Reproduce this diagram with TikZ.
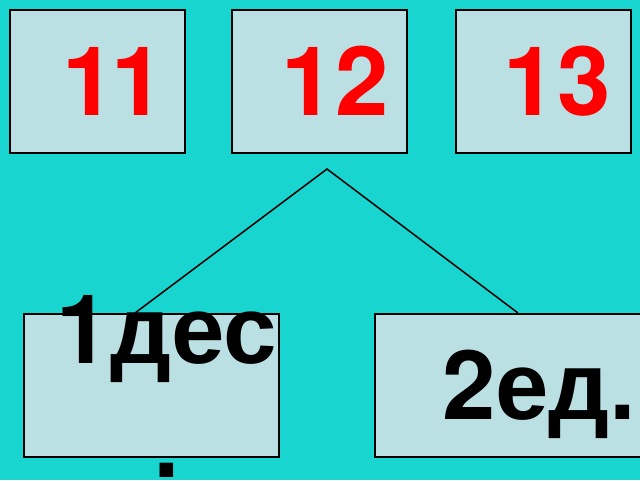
\documentclass[tikz,border=0pt]{standalone}
\usepackage{fontspec}
\setmainfont{Liberation Sans}
\newfontfamily\digitfont{TeX Gyre Heros}
\definecolor{bgcyan}{RGB}{25,213,208}
\definecolor{boxfill}{RGB}{187,224,228}
\definecolor{numred}{RGB}{255,0,0}
\newcommand{\dg}[1]{{\digitfont #1}}
\begin{document}
\begin{tikzpicture}[x=1pt,y=-1pt,
  box/.style={draw=black,line width=2pt,fill=boxfill,rectangle,inner sep=0pt},
  topbox/.style={box,minimum width=175pt,minimum height=143pt},
  num/.style={inner sep=0pt,anchor=base west,text=numred,font=\fontsize{96}{114}\selectfont\digitfont\bfseries},
  word/.style={inner sep=0pt,anchor=base west,text=black,font=\fontsize{96}{114}\selectfont\bfseries},
  conn/.style={draw=black,line width=1.5pt}]
\fill[bgcyan] (0,0) rectangle (640,480);
\useasboundingbox (0,0) rectangle (640,480);
\begin{scope}
\clip (0,0) rectangle (640,480);
\node[topbox] (b1) at (97,81) {};
\node[topbox] (b2) at (319,81) {};
\node[topbox] (b3) at (543,81) {};
\node[box,minimum width=255pt,minimum height=143pt] (b4) at (151,385) {};
\node[box,minimum width=285pt,minimum height=143pt] (b5) at (517.5,385) {};
\node[num] (t11) at (62.5,115) {1\kern-4.5pt 1};
\node[num] (t12) at (281.5,115) {12};
\node[num] (t13) at (503.5,115) {13};
\coordinate (apex) at (327,169);
\coordinate (e4) at (135,313);
\coordinate (e5) at (518,313);
\draw[conn] (e4) -- (apex) -- (e5);
\node[word,align=center] (t4) at (56.5,477) {\dg{1}дес\\.};
\node[word] (t5) at (442,419) {\dg{2}ед.};
\end{scope}
\end{tikzpicture}
\end{document}
